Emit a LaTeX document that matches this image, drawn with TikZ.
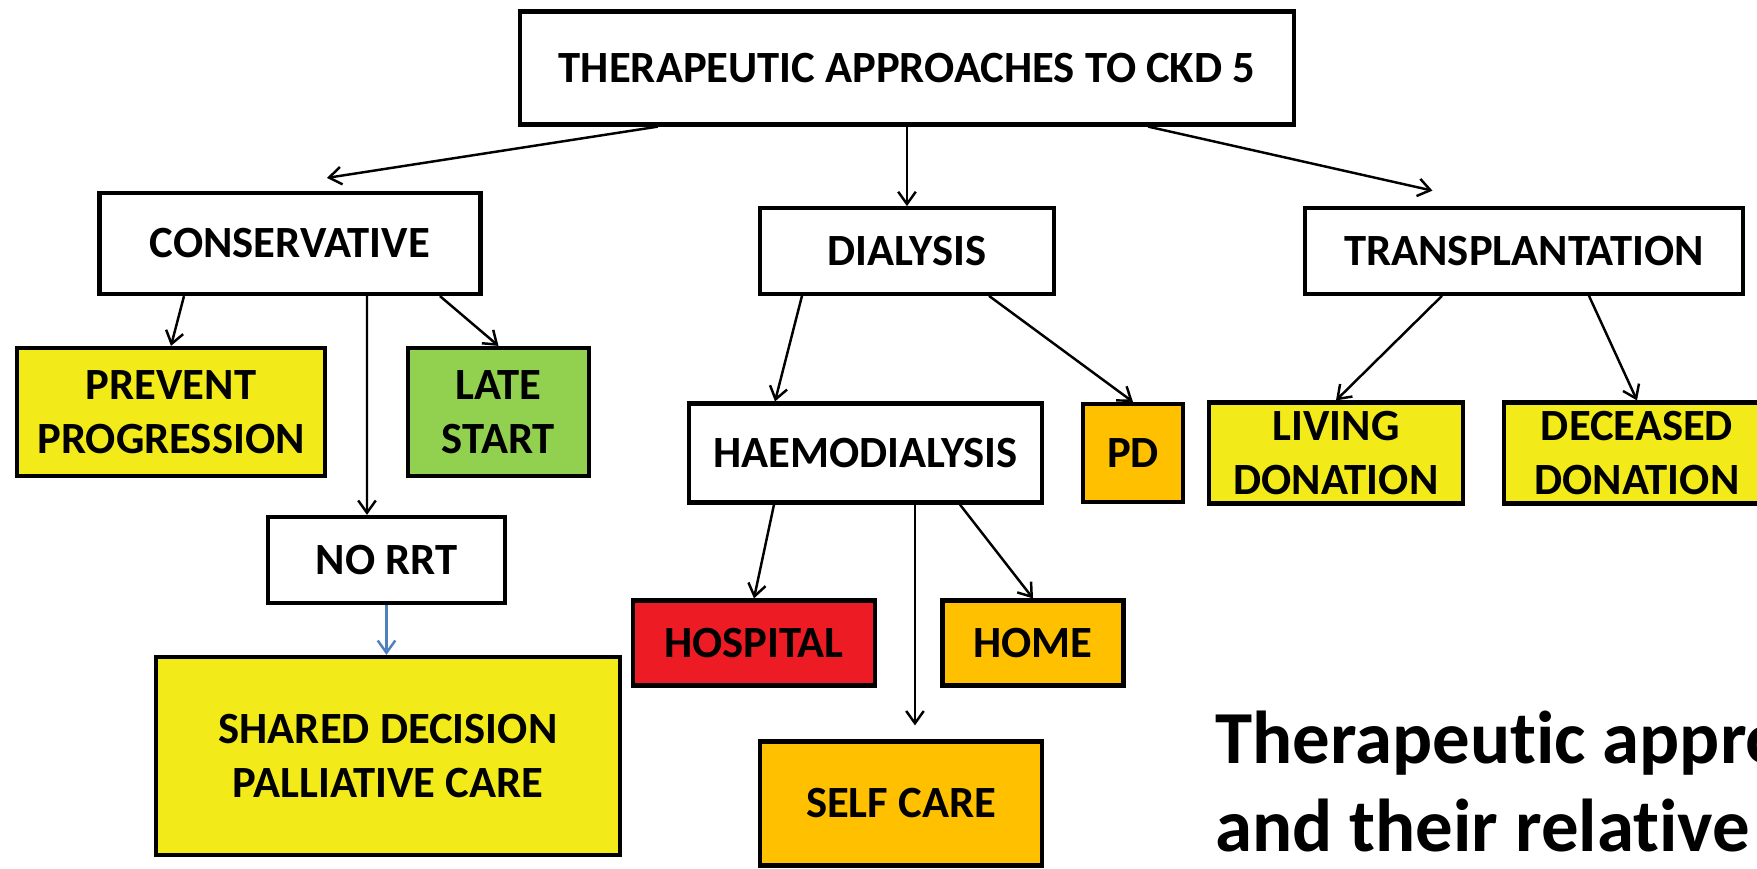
\documentclass[tikz,border=0pt]{standalone}
\usepackage{fontspec}
\setmainfont[Ligatures={NoCommon,NoContextual}]{Carlito}
\usepackage{xcolor}
\usepackage{tikz}
\usetikzlibrary{arrows.meta}
\definecolor{boxyellow}{RGB}{243,235,25}
\definecolor{boxgreen}{RGB}{146,208,80}
\definecolor{boxorange}{RGB}{255,192,0}
\definecolor{boxred}{RGB}{237,28,36}
\definecolor{lineblue}{RGB}{79,129,189}
\tikzstyle{wb} = [rectangle, inner sep=1pt, text centered, align=center, draw=black, line width=1.2pt, fill=white, font=\bfseries\fontsize{12.7}{15.3}\selectfont]
\tikzstyle{yb} = [wb, fill=boxyellow]
\tikzstyle{gb} = [wb, fill=boxgreen]
\tikzstyle{ob} = [wb, fill=boxorange]
\tikzstyle{rb} = [wb, fill=boxred]
\tikzstyle{arrow} = [line width=0.7pt, -{Straight Barb[length=3.5pt,width=5pt]}]
\tikzstyle{barrow} = [arrow, draw=lineblue]
\tikzstyle{capt} = [inner sep=0pt, font=\bfseries\fontsize{21.3}{25}\selectfont]

\begin{document}
\begin{tikzpicture}[node distance=2cm]
\useasboundingbox (-9.07,0.68) rectangle (8.5,-8.0);

\node (top) [wb, minimum width=7.74cm, minimum height=1.13cm] {THERAPEUTIC APPROACHES TO CKD 5};

\node (cons) [wb, below of=top, xshift=-6.17cm, yshift=0.245cm, minimum width=3.81cm, minimum height=1.01cm] {CONSERVATIVE};
\node (dial) [wb, below of=top, yshift=0.17cm, minimum width=2.94cm, minimum height=0.855cm] {DIALYSIS};
\node (trans) [wb, below of=top, xshift=6.17cm, yshift=0.17cm, minimum width=4.375cm, minimum height=0.855cm] {TRANSPLANTATION};

\node (prev) [yb, below of=cons, xshift=-1.19cm, yshift=0.315cm, minimum width=3.08cm, minimum height=1.28cm] {PREVENT\\PROGRESSION};
\node (late) [gb, right of=prev, xshift=1.275cm, minimum width=1.81cm, minimum height=1.28cm] {LATE\\START};
\node (norrt) [wb, below of=cons, xshift=0.965cm, yshift=-1.165cm, minimum width=2.37cm, minimum height=0.86cm] {NO RRT};
\node (shared) [yb, below of=norrt, xshift=0.015cm, yshift=0.04cm, minimum width=4.64cm, minimum height=1.98cm] {SHARED DECISION\\PALLIATIVE CARE};

\node (haemo) [wb, below of=dial, xshift=-0.415cm, yshift=-0.02cm, minimum width=3.53cm, minimum height=0.99cm] {HAEMODIALYSIS};
\node (pd) [ob, right of=haemo, xshift=0.675cm, minimum width=1.0cm, minimum height=0.98cm] {PD};
\node (living) [yb, right of=pd, xshift=0.03cm, minimum width=2.54cm, minimum height=1.01cm] {LIVING\\DONATION};
\node (deceased) [yb, right of=living, xshift=1.01cm, minimum width=2.66cm, minimum height=1.01cm] {DECEASED\\DONATION};

\node (hosp) [rb, below of=haemo, xshift=-1.115cm, yshift=0.1cm, minimum width=2.415cm, minimum height=0.85cm] {HOSPITAL};
\node (home) [ob, right of=hosp, xshift=0.79cm, minimum width=1.81cm, minimum height=0.85cm] {HOME};
\node (self) [ob, below of=haemo, xshift=0.355cm, yshift=-1.505cm, minimum width=2.82cm, minimum height=1.24cm] {SELF CARE};

% caption runs off the right edge, as in the original
\node (cap1) [capt, below of=living, anchor=base west, xshift=-1.214cm, yshift=-1.105cm] {Therapeutic appro};
\node (cap2) [capt, below of=living, anchor=base west, xshift=-1.214cm, yshift=-1.985cm] {and their relative};

\draw [arrow] ([xshift=1.4cm]top.south west) -- ([xshift=0.37cm,yshift=0.13cm]cons.north);
\draw [arrow] (top.south) -- (dial.north);
\draw [arrow] ([xshift=-1.48cm]top.south east) -- ([xshift=-0.915cm,yshift=0.155cm]trans.north);

\draw [arrow] ([xshift=-1.06cm]cons.south) -- (prev.north);
\draw [arrow] ([xshift=0.77cm]cons.south) -- ([xshift=-0.195cm]norrt.north);
\draw [arrow] ([xshift=1.5cm]cons.south) -- (late.north);
\draw [barrow] (norrt.south) -- (norrt.south |- shared.north);

\draw [arrow] ([xshift=-1.05cm]dial.south) -- ([xshift=-0.905cm]haemo.north);
\draw [arrow] ([xshift=0.82cm]dial.south) -- (pd.north);
\draw [arrow] ([xshift=-0.82cm]trans.south) -- (living.north);
\draw [arrow] ([xshift=0.65cm]trans.south) -- (deceased.north);

\draw [arrow] ([xshift=-0.915cm]haemo.south) -- (hosp.north);
\draw [arrow, shorten >=0.14cm] ([xshift=0.495cm]haemo.south) -- ([xshift=0.14cm]self.north);
\draw [arrow] ([xshift=0.945cm]haemo.south) -- (home.north);

\end{tikzpicture}
\end{document}
